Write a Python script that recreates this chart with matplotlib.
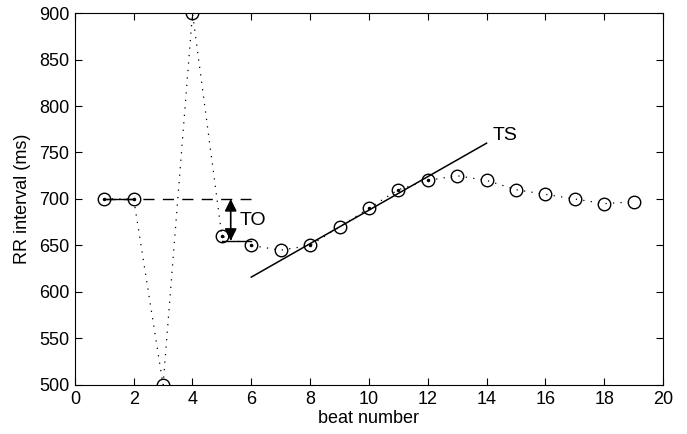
"""RR interval tachogram with turbulence onset (TO) and slope (TS)."""

import matplotlib

matplotlib.use("Agg")
import matplotlib.pyplot as plt  # noqa: E402

beats = list(range(1, 20))
rr = [700, 700, 500, 900, 660, 650, 645, 650, 670, 690, 710, 720,
      725, 720, 710, 705, 700, 695, 697]

# beats whose circles show a centre dot
dot_beats = [1, 2, 5, 6, 8, 10, 11, 12]

baseline_x = [1, 6]
baseline_y = [700, 700]
pre_x = [1, 2]
pre_y = [700, 700]
post_x = [5, 6]
post_y = [655, 655]
to_x = 5.3
to_y = [700, 655]
ts_x = [6, 14]
ts_y = [616, 760]

plt.rcParams["font.family"] = ["Liberation Sans", "DejaVu Sans"]
plt.rcParams["font.size"] = 13

fig = plt.figure(figsize=(6.87, 4.34), dpi=100)
ax = fig.add_axes([0.109, 0.113, 0.856, 0.857])

ax.plot(beats, rr, color="k", linestyle=(0, (1, 5)), linewidth=0.9,
        marker="o", markersize=9, markerfacecolor="none",
        markeredgecolor="k", markeredgewidth=1.0)
ax.plot(dot_beats, [rr[b - 1] for b in dot_beats], "k.", markersize=3)

ax.plot(baseline_x, baseline_y, color="k", linestyle=(0, (8, 6)), linewidth=1)
ax.plot(pre_x, pre_y, color="k", linewidth=1)
ax.plot(post_x, post_y, color="k", linewidth=1)
ax.plot(ts_x, ts_y, color="k", linewidth=1.1)

ax.annotate("", xy=(to_x, to_y[0]), xytext=(to_x, to_y[1]),
            arrowprops=dict(arrowstyle="<|-|>", color="k", lw=1.2,
                            mutation_scale=18, shrinkA=0, shrinkB=0))
ax.text(5.6, 677, "TO", fontsize=14, va="center", ha="left")
ax.text(14.2, 768, "TS", fontsize=14, va="center", ha="left")

ax.set_xlim(0, 20)
ax.set_ylim(500, 900)
ax.set_xticks(range(0, 21, 2))
ax.set_yticks(range(500, 901, 50))
ax.tick_params(direction="in", top=True, right=True, length=5, width=0.8,
               pad=4)
for s in ax.spines.values():
    s.set_linewidth(0.8)
ax.set_xlabel("beat number", labelpad=2)
ax.set_ylabel("RR interval (ms)", labelpad=6)

fig.savefig("out.png", dpi=100)
plt.close(fig)
